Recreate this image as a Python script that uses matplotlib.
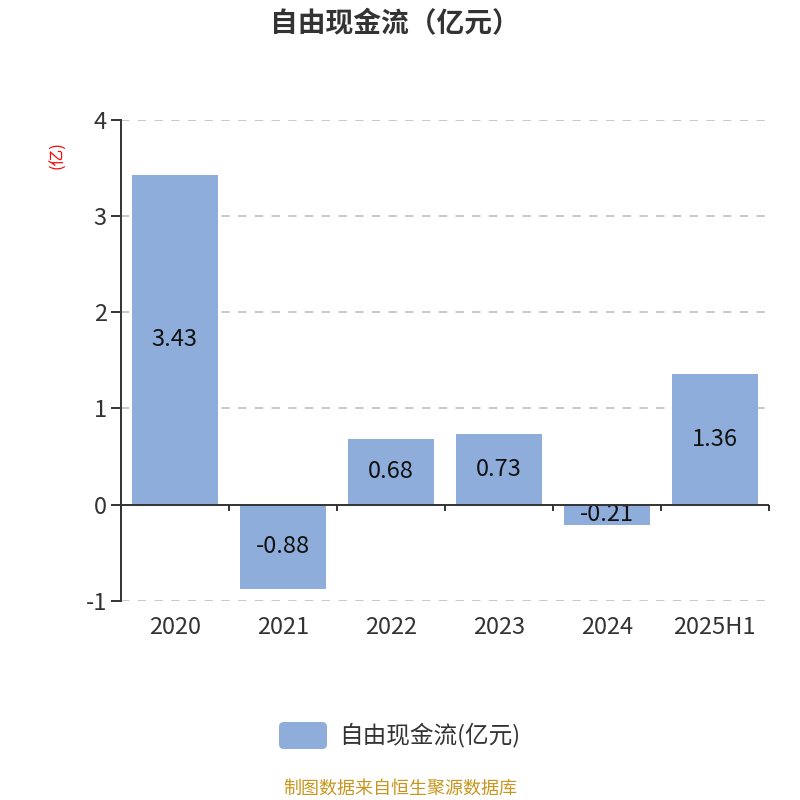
import matplotlib
matplotlib.use("Agg")
import matplotlib.pyplot as plt
from matplotlib.patches import FancyBboxPatch
import numpy as np

plt.rcParams['font.family'] = ['Noto Sans CJK SC', 'DejaVu Sans']

categories = ["2020", "2021", "2022", "2023", "2024", "2025H1"]
values = [3.43, -0.88, 0.68, 0.73, -0.21, 1.36]
yticks = [-1, 0, 1, 2, 3, 4]

BAR = "#8EADDA"
TXT = "#333333"
GRID = "#C8C8C8"

fig = plt.figure(figsize=(8, 8), dpi=100)
ax = fig.add_axes([0.151, 0.249, 0.81, 0.601])

x = np.arange(len(categories))
ax.bar(x, values, width=0.8, color=BAR, zorder=2)

for xi, v in zip(x, values):
    ax.text(xi, v / 2, f"{v:.2f}", ha="center", va="center",
            fontsize=17, color="#111111", zorder=3)

ax.set_xlim(-0.5, len(categories) - 0.5)
ax.set_ylim(-1, 4)
ax.set_yticks(yticks)
ax.set_yticklabels([str(t) for t in yticks], fontsize=17, color=TXT)
for t in yticks:
    if t != 0:
        ax.axhline(t, color=GRID, linewidth=1.4, linestyle=(0, (4.3, 4.3)), zorder=1)

# zero line with category-boundary ticks
ax.axhline(0, color=TXT, linewidth=1.4, zorder=3)
bounds = np.arange(len(categories) + 1) - 0.5
ax.vlines(bounds, -0.07, 0, color=TXT, linewidth=1.4, zorder=3, clip_on=False)

ax.set_xticks(x)
ax.set_xticklabels(categories, fontsize=17, color=TXT)
ax.tick_params(axis="x", length=0, pad=11)
ax.tick_params(axis="y", length=7, width=1.4, color=TXT, pad=3)

for s in ["top", "right", "bottom"]:
    ax.spines[s].set_visible(False)
ax.spines["left"].set_color(TXT)
ax.spines["left"].set_linewidth(1.4)

fig.text(58 / 800, 1 - 155 / 800, "(亿)", rotation=90, color="red",
         fontsize=12, ha="center", va="center")

fig.text(0.494, 1 - 24 / 800, "自由现金流（亿元）", ha="center", va="center",
         fontsize=20, fontweight="bold", color=TXT)

# legend
patch = FancyBboxPatch((279 / 800, 1 - 749 / 800), 48 / 800, 27 / 800,
                       boxstyle="round,pad=0,rounding_size=0.006",
                       transform=fig.transFigure, facecolor=BAR, edgecolor="none")
fig.patches.append(patch)
fig.text(339 / 800, 1 - 735 / 800, "自由现金流(亿元)", ha="left", va="center",
         fontsize=17, color=TXT)

fig.text(0.5, 1 - 789 / 800, "制图数据来自恒生聚源数据库", ha="center", va="center",
         fontsize=13, color="#C8961E")

fig.savefig("out.png", dpi=100)
